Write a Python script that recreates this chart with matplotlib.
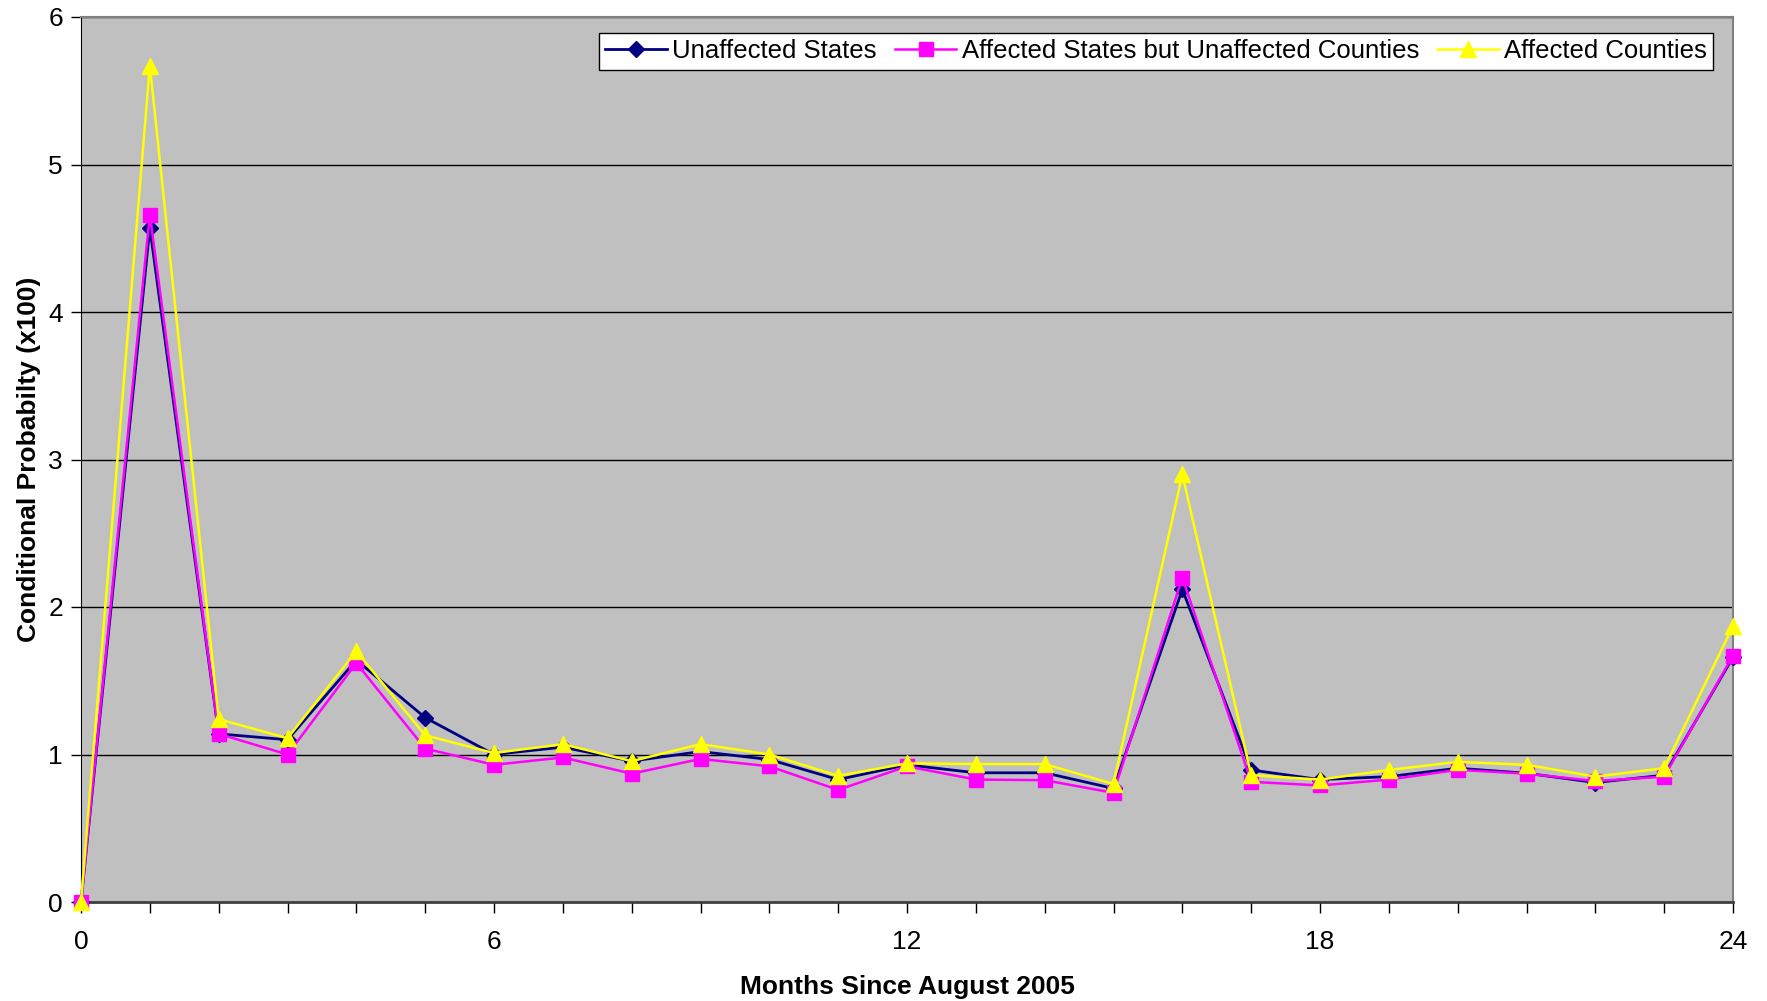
import matplotlib
matplotlib.use("Agg")
from matplotlib import pyplot as plt
from matplotlib.ticker import MultipleLocator

months = list(range(25))
unaffected_states = [0.0, 4.57, 1.14, 1.10, 1.64, 1.25, 1.00, 1.05, 0.955, 1.02, 0.966, 0.83,
                     0.93, 0.876, 0.876, 0.77, 2.12, 0.895, 0.83, 0.85, 0.907, 0.873, 0.81, 0.86, 1.66]
affected_states = [0.0, 4.66, 1.14, 1.00, 1.62, 1.04, 0.93, 0.98, 0.87, 0.97, 0.92, 0.76,
                   0.92, 0.83, 0.826, 0.74, 2.20, 0.815, 0.79, 0.83, 0.896, 0.87, 0.82, 0.85, 1.67]
affected_counties = [0.0, 5.67, 1.24, 1.11, 1.70, 1.13, 1.01, 1.07, 0.955, 1.07, 1.00, 0.855,
                     0.94, 0.935, 0.935, 0.80, 2.90, 0.86, 0.83, 0.895, 0.95, 0.93, 0.85, 0.907, 1.87]

plt.rcParams['font.family'] = ['Liberation Sans', 'DejaVu Sans']

fig = plt.figure(figsize=(17.67, 10.01), dpi=100)
ax = fig.add_axes([81 / 1767, 1 - 902 / 1001, (1733 - 81) / 1767, (902 - 17) / 1001])
ax.set_facecolor('#C0C0C0')

ax.plot(months, unaffected_states, color='#000080', lw=2.0, marker='D', ms=8,
        label='Unaffected States', clip_on=False, zorder=3)
ax.plot(months, affected_states, color='#FF00FF', lw=1.8, marker='s', ms=10,
        label='Affected States but Unaffected Counties', clip_on=False, zorder=4)
ax.plot(months, affected_counties, color='#FFFF00', lw=1.8, marker='^', ms=11,
        label='Affected Counties', clip_on=False, zorder=5)

ax.set_xlim(0, 24)
ax.set_ylim(0, 6)
ax.xaxis.set_major_locator(MultipleLocator(6))
ax.xaxis.set_minor_locator(MultipleLocator(1))
ax.yaxis.set_major_locator(MultipleLocator(1))
ax.yaxis.grid(True, color='black', lw=1)
ax.set_axisbelow(True)

ax.tick_params(axis='both', which='both', direction='out', labelsize=19, color='black')
ax.tick_params(axis='x', which='both', length=8, width=1, pad=12)
ax.tick_params(axis='y', length=7, width=1, pad=6)

for side in ['top', 'right']:
    ax.spines[side].set_color('#808080')
    ax.spines[side].set_linewidth(1.5)
ax.spines['left'].set_color('black')
ax.spines['bottom'].set_color('#404040')
ax.spines['bottom'].set_linewidth(2)

ax.set_xlabel('Months Since August 2005', fontsize=19, fontweight='bold', labelpad=15)
ax.set_ylabel('Conditional Probabilty (x100)', fontsize=19, fontweight='bold', labelpad=5)

leg = ax.legend(loc='upper right', ncol=3, fontsize=18.5, fancybox=False, framealpha=1,
                edgecolor='black', handlelength=2.4, handletextpad=0.2, columnspacing=0.7,
                borderpad=0.25, borderaxespad=0,
                bbox_to_anchor=(1 - 20 / 1652, 1 - 16 / 885))
leg.get_frame().set_linewidth(1)

fig.savefig('out.png', dpi=100)
